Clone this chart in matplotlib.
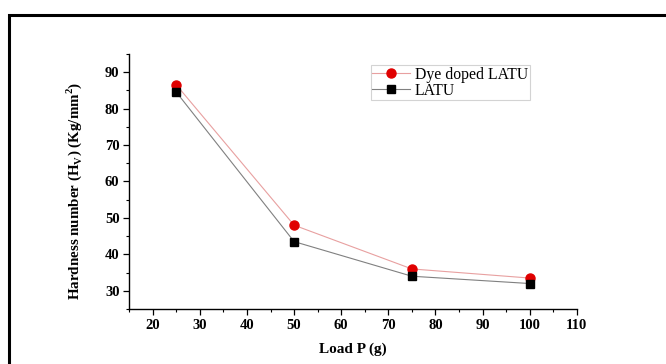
import matplotlib
matplotlib.use("Agg")
import matplotlib.pyplot as plt
from matplotlib.patches import Rectangle
from matplotlib.ticker import MultipleLocator

# Vickers hardness vs load
load = [25, 50, 75, 100]
hv_dye = [86.5, 48.0, 36.0, 33.5]
hv_latu = [84.5, 43.5, 34.0, 32.0]

plt.rcParams['font.family'] = ['Liberation Serif', 'DejaVu Serif']
plt.rcParams['mathtext.fontset'] = 'custom'
plt.rcParams['mathtext.rm'] = 'Liberation Serif'
plt.rcParams['mathtext.bf'] = 'Liberation Serif:bold'

fig = plt.figure(figsize=(6.66, 3.64), dpi=100)
ax = fig.add_axes([0.194, 0.151, 0.672, 0.701])

ax.plot(load, hv_dye, color='#e8a0a0', lw=0.8, marker='o', ms=6.5,
        mfc='#e00000', mec='#e00000', label='Dye doped LATU')
ax.plot(load, hv_latu, color='#808080', lw=0.8, marker='s', ms=6,
        mfc='black', mec='black', label='LATU')

ax.set_xlim(15, 110)
ax.set_ylim(25, 95)
ax.xaxis.set_minor_locator(MultipleLocator(5))
ax.yaxis.set_minor_locator(MultipleLocator(5))
ax.set_xticks(range(20, 111, 10))
ax.set_yticks(range(30, 91, 10))

for s in ['top', 'right']:
    ax.spines[s].set_visible(False)
for s in ['left', 'bottom']:
    ax.spines[s].set_linewidth(1.0)

ax.tick_params(which='major', direction='out', length=4, width=0.9, pad=3,
               labelsize=10.5)
ax.tick_params(which='minor', direction='out', length=2.5, width=0.8)
for lab in ax.get_xticklabels() + ax.get_yticklabels():
    lab.set_fontweight('bold')

ax.set_xlabel('Load P (g)', fontsize=11, fontweight='bold', labelpad=8)
ax.set_ylabel(r'Hardness number (H$_\mathbf{V}$) (Kg/mm$^\mathbf{2}$)',
              fontsize=10.8, fontweight='bold')
ax.yaxis.set_label_coords(-0.1, 0.465)

leg = ax.legend(loc='upper left', bbox_to_anchor=(0.54, 0.955), fontsize=11.3,
                frameon=True, fancybox=False, edgecolor='#c8c8c8',
                handlelength=2.4, handletextpad=0.3, borderpad=0.1,
                labelspacing=0.0, borderaxespad=0)
leg.get_frame().set_linewidth(0.8)

# outer black frame around the figure
fig.patches.append(Rectangle((9 / 666, -0.1), 1.2, 0.1 + (1 - 15 / 364),
                             transform=fig.transFigure, fill=False,
                             edgecolor='black', lw=2.2, clip_on=False))

fig.savefig('out.png', dpi=100)
